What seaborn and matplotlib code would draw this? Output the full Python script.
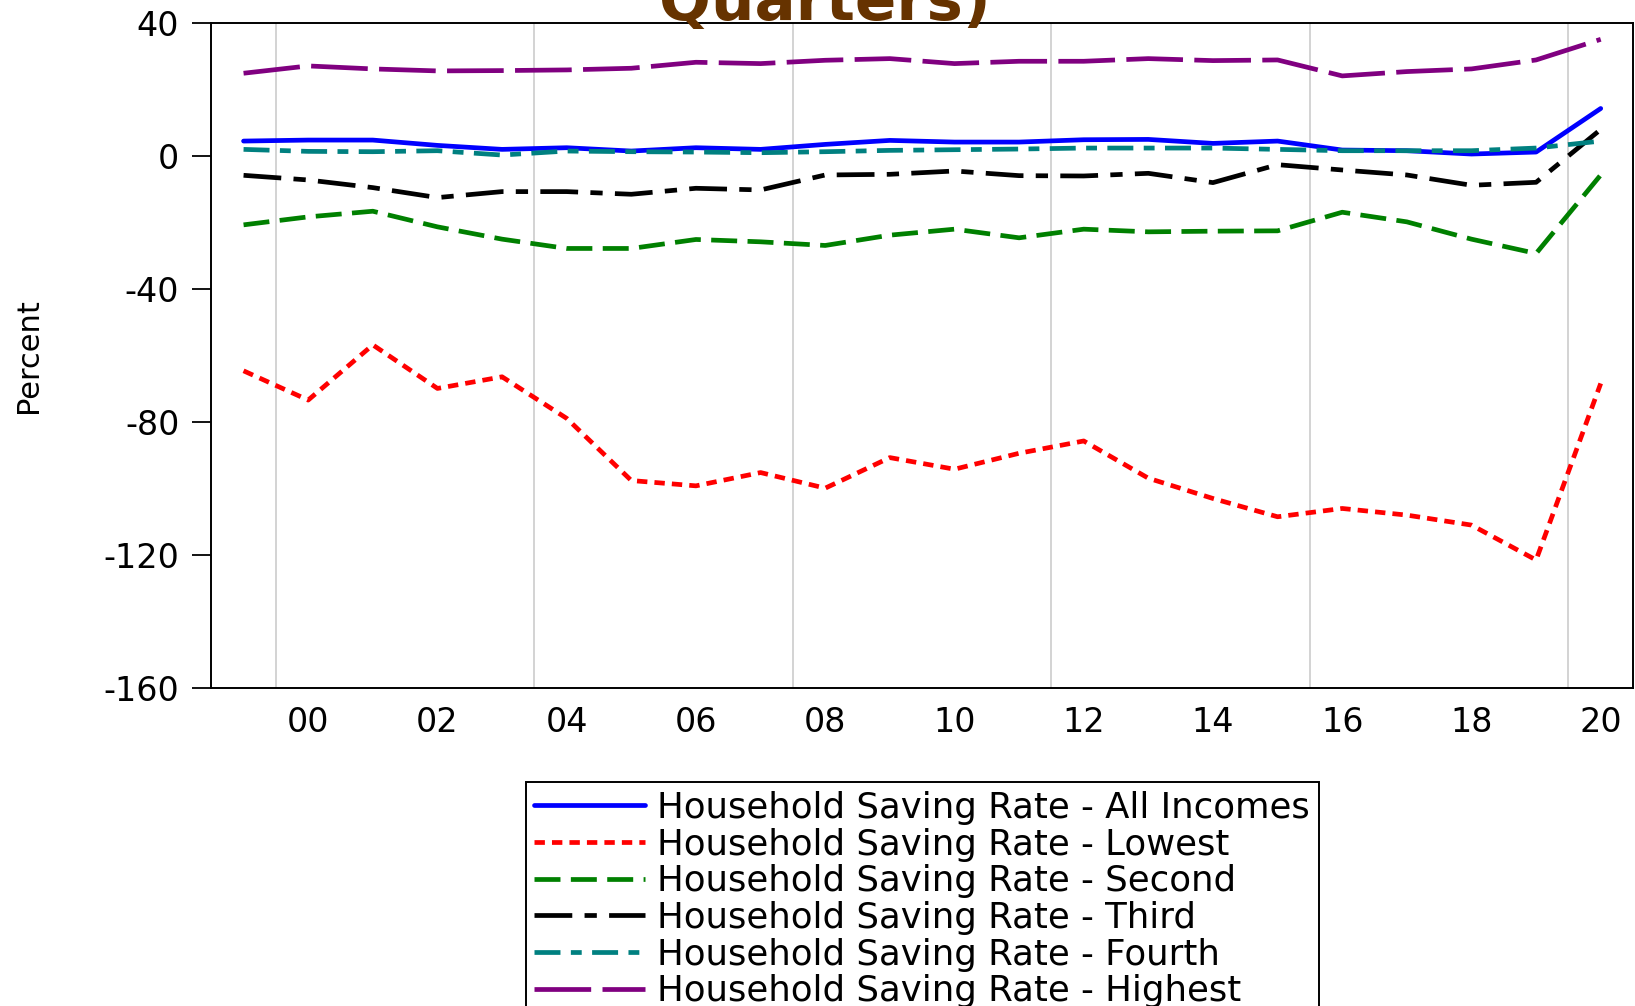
import numpy as np
import pandas as pd
import matplotlib
matplotlib.use("Agg")
import matplotlib.pyplot as plt
import seaborn as sns

# annual household saving rates (percent), 1999-2020
years = list(range(1999, 2021))
all_incomes = [4.5, 4.8, 4.8, 3.2, 2.0, 2.5, 1.5, 2.5, 2.0, 3.5, 4.7,
               4.2, 4.2, 4.9, 5.0, 3.8, 4.5, 1.8, 1.6, 0.6, 1.2, 14.3]
lowest = [-64.6, -73.4, -56.8, -69.9, -66.4, -78.9, -97.6, -99.2, -95.2, -99.9, -90.7,
          -94.2, -89.4, -85.7, -96.9, -103.0, -108.5, -106.0, -108.0, -111.0, -121.5, -68.4]
second = [-20.7, -18.3, -16.6, -21.3, -25.0, -27.8, -27.8, -25.1, -25.8, -26.9, -23.8,
          -22.0, -24.6, -22.0, -22.8, -22.6, -22.5, -16.9, -19.8, -25.0, -29.3, -5.7]
third = [-5.8, -7.2, -9.5, -12.5, -10.7, -10.7, -11.5, -9.7, -10.2, -5.7, -5.5,
         -4.5, -5.9, -6.0, -5.2, -8.0, -2.6, -4.2, -5.7, -8.8, -7.9, 8.0]
fourth = [2.0, 1.4, 1.3, 1.6, 0.3, 1.5, 1.3, 1.2, 1.0, 1.3, 1.7,
          1.9, 2.1, 2.4, 2.4, 2.4, 2.0, 1.6, 1.6, 1.6, 2.4, 4.5]
highest = [24.9, 27.1, 26.2, 25.6, 25.7, 25.9, 26.4, 28.2, 27.8, 28.8, 29.3,
           27.8, 28.5, 28.5, 29.3, 28.7, 28.9, 24.1, 25.4, 26.2, 28.9, 35.1]

series_names = ["Household Saving Rate - All Incomes", "Household Saving Rate - Lowest",
                "Household Saving Rate - Second", "Household Saving Rate - Third",
                "Household Saving Rate - Fourth", "Household Saving Rate - Highest"]
series_values = [all_incomes, lowest, second, third, fourth, highest]
colors = ["#0000ff", "#ff0000", "#008000", "#000000", "#008080", "#800080"]
dash_styles = ["-", (0, (2.2, 1.5)), (0, (5.5, 2.2)), (0, (8, 2.6, 2.6, 2.6)),
               (0, (5.5, 2.2, 2.3, 2.2)), (0, (12, 2.4))]

y_ticks = [-160, -120, -80, -40, 0, 40]
x_labels = ["00", "02", "04", "06", "08", "10", "12", "14", "16", "18", "20"]

sns.set_style("white")
plt.rcParams["font.family"] = ["DejaVu Sans"]
plt.rcParams["axes.unicode_minus"] = False
for key in ["text.color", "axes.labelcolor", "xtick.color", "ytick.color"]:
    plt.rcParams[key] = "black"

fig = plt.figure(figsize=(16.35, 10.06), dpi=100)
ax = fig.add_axes([0.1292, 0.3161, 0.8696, 0.6610])

# annual points are drawn at mid-year
x_mid = np.array(years) + 0.5
for name, vals, col, ls in zip(series_names, series_values, colors, dash_styles):
    df = pd.DataFrame({"year": x_mid, "rate": vals})
    sns.lineplot(data=df, x="year", y="rate", ax=ax, color=col, linestyle=ls,
                 linewidth=3.4, label=name)

for yr in range(2000, 2021, 4):
    ax.axvline(yr, color="#cccccc", linewidth=1.2, zorder=0)

ax.set_xlim(1999, 2021)
ax.set_ylim(-160, 40)
ax.set_yticks(y_ticks)
ax.set_xticks(range(1999, 2022))
ax.set_xticklabels([])
ax.set_xticks(np.arange(2000, 2021, 2) + 0.5, minor=True)
ax.set_xticklabels(x_labels, minor=True)
ax.tick_params(axis="x", which="major", direction="out", length=14, width=1.3, color="black")
ax.tick_params(axis="x", which="minor", length=0, pad=13, labelsize=24)
ax.tick_params(axis="y", direction="out", length=14, width=1.3, pad=9, labelsize=24,
               left=True, right=False, color="black")
for sp in ax.spines.values():
    sp.set_color("black")
    sp.set_linewidth(1.4)

ax.set_xlabel("")
ax.set_ylabel("Percent", fontsize=22)
ax.yaxis.set_label_coords(-0.118, 0.5)

ax.legend(loc="upper center", bbox_to_anchor=(0.5, -0.1414), fontsize=25.6,
          frameon=True, fancybox=False, edgecolor="black", framealpha=1,
          borderpad=0.25, labelspacing=0.075, handlelength=3.1, handletextpad=0.35,
          borderaxespad=0).get_frame().set_linewidth(1.4)

fig.text(0.5043, 1 - 20 / 1006, "Quarters)", ha="center", va="baseline",
         fontsize=44, fontweight="bold", color="#663300")

plt.savefig("out.png", dpi=100)
